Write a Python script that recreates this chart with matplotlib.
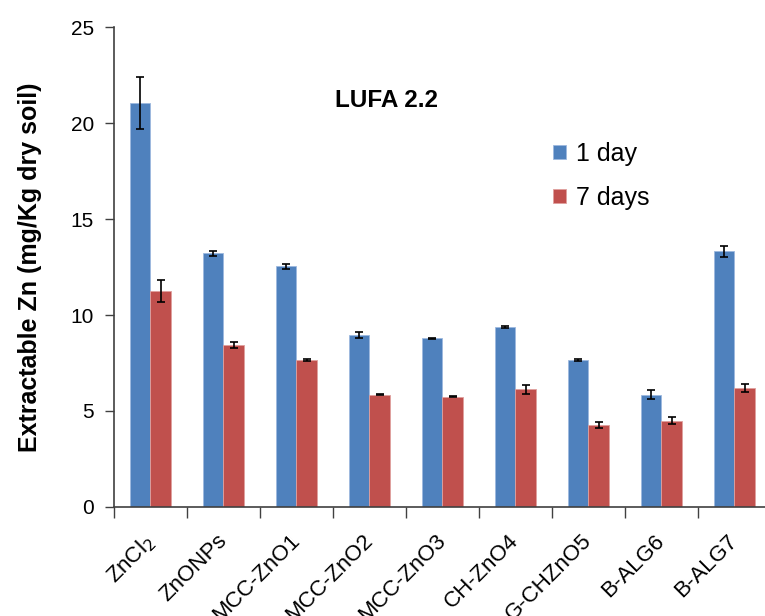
import matplotlib.pyplot as plt
import numpy as np

plt.rcParams['font.family'] = ['Liberation Sans', 'DejaVu Sans']

# datos
categorias = ['ZnCl$_2$', 'ZnONPs', 'MCC-ZnO1', 'MCC-ZnO2', 'MCC-ZnO3',
              'CH-ZnO4', 'G-CHZnO5', 'B-ALG6', 'B-ALG7']
dia1 = [21.06, 13.23, 12.55, 8.94, 8.78, 9.39, 7.65, 5.85, 13.33]
dia1_err = [1.36, 0.13, 0.13, 0.15, 0.04, 0.06, 0.06, 0.23, 0.29]
dia7 = [11.27, 8.45, 7.66, 5.85, 5.75, 6.14, 4.27, 4.50, 6.20]
dia7_err = [0.57, 0.15, 0.04, 0.03, 0.03, 0.24, 0.16, 0.17, 0.23]

azul = '#4F81BD'
rojo = '#C0504D'
eje = '#404040'

fig = plt.figure(figsize=(7.65, 6.16), dpi=100)
ax = fig.add_axes([0.149, 0.177, 0.851, 0.779])

x = np.arange(len(categorias))
w = 0.28
err_kw = dict(ecolor='black', elinewidth=1.2, capsize=2.8, capthick=1.2)
ax.bar(x - w / 2, dia1, w, yerr=dia1_err, color=azul, edgecolor='#9DB9DF',
       linewidth=0.6, label='1 day', error_kw=err_kw)
ax.bar(x + w / 2, dia7, w, yerr=dia7_err, color=rojo, edgecolor='#E0A09E',
       linewidth=0.6, label='7 days', error_kw=err_kw)

# ejes
ax.set_xlim(-0.5, 8.42)
ax.set_ylim(0, 25)
ax.set_yticks(np.arange(0, 26, 5))
ax.set_xticks(np.arange(-0.5, 8.5, 1))
ax.set_xticklabels([])
ax.set_xticks(x - 0.1, minor=True)
ax.set_xticklabels(categorias, minor=True, rotation=45, ha='right',
                   rotation_mode='anchor', fontsize=16)
ax.tick_params(axis='x', which='minor', length=0, pad=17)
ax.tick_params(axis='x', which='major', length=8, width=1, color=eje, direction='out')
ax.tick_params(axis='y', length=6.5, width=1, color=eje, labelsize=15, pad=8)

for s in ['top', 'right']:
    ax.spines[s].set_visible(False)
for s in ['left', 'bottom']:
    ax.spines[s].set_color(eje)
    ax.spines[s].set_linewidth(1.2)

ax.set_ylabel('Extractable Zn (mg/Kg dry soil)', fontsize=18, fontweight='bold')
ax.yaxis.set_label_coords(-0.11, 0.5)

ax.text(0.419, 0.848, 'LUFA 2.2', transform=ax.transAxes, ha='center',
        va='center', fontsize=17.5, fontweight='bold')

ax.legend(loc='upper left', bbox_to_anchor=(0.700, 0.798), bbox_transform=fig.transFigure,
          frameon=False, fontsize=18, handlelength=0.5, handleheight=0.5,
          labelspacing=0.8, handletextpad=0.4, borderpad=0.2)

fig.savefig('out.png', dpi=100)
